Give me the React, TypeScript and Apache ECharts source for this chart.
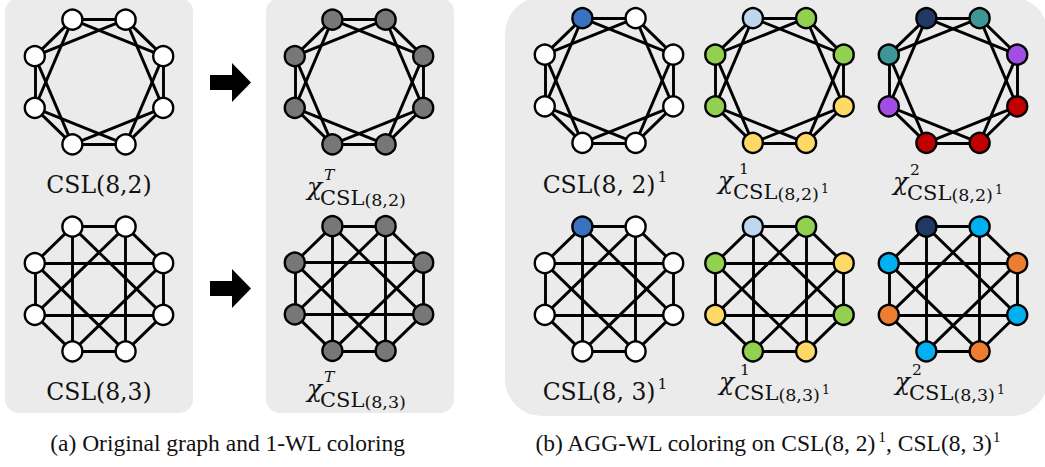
import React, { useEffect, useRef } from "react";
import * as echarts from "echarts";

// Node positions of the regular octagon (unit coordinates), clockwise from the top-left node
const nodeX = [-0.383, 0.383, 0.924, 0.924, 0.383, -0.383, -0.924, -0.924];
const nodeY = [0.924, 0.924, 0.383, -0.383, -0.924, -0.924, -0.383, 0.383];

// Edge lists
const cycleEdges = [[0, 1], [1, 2], [2, 3], [3, 4], [4, 5], [5, 6], [6, 7], [7, 0]];
const skip2Edges = [[0, 2], [1, 3], [2, 4], [3, 5], [4, 6], [5, 7], [6, 0], [7, 1]];
const skip3Edges = [[0, 3], [1, 4], [2, 5], [3, 6], [4, 7], [5, 0], [6, 1], [7, 2]];
const edgesCSL82 = cycleEdges.concat(skip2Edges);
const edgesCSL83 = cycleEdges.concat(skip3Edges);

// Colours
const WH = "#ffffff";
const GY = "#777777";
const BL = "#3a72c2";
const LB = "#bdd7ee";
const GR = "#92d050";
const YE = "#ffd966";
const NV = "#1f3864";
const TE = "#3e9696";
const PU = "#a24ee6";
const RD = "#c00000";
const CY = "#00b0f0";
const OR = "#ed7d31";

// Node colourings
const colorsPlain = [WH, WH, WH, WH, WH, WH, WH, WH];
const colors1WL = [GY, GY, GY, GY, GY, GY, GY, GY];
const colorsMarked = [BL, WH, WH, WH, WH, WH, WH, WH];
const colorsChi1CSL82 = [LB, GR, GR, YE, YE, YE, GR, GR];
const colorsChi2CSL82 = [NV, TE, PU, RD, RD, RD, PU, TE];
const colorsChi1CSL83 = [LB, GR, YE, GR, YE, GR, YE, GR];
const colorsChi2CSL83 = [NV, CY, OR, CY, OR, CY, OR, CY];

// Texts
const captionA = "(a) Original graph and 1-WL coloring";
const captionBParts = ["(b) AGG-WL coloring on CSL(8, 2)", "1", ", CSL(8, 3)", "1"];

const SERIF = "DejaVu Serif";
const TIMES = "Liberation Serif";
const RX = 69.5;
const RY = 67.5;

const graphs = [
  { edges: edgesCSL82, colors: colorsPlain, cx: 99, cy: 82 },
  { edges: edgesCSL83, colors: colorsPlain, cx: 99, cy: 289 },
  { edges: edgesCSL82, colors: colors1WL, cx: 359, cy: 82 },
  { edges: edgesCSL83, colors: colors1WL, cx: 359, cy: 288.5 },
  { edges: edgesCSL82, colors: colorsMarked, cx: 609, cy: 80.5 },
  { edges: edgesCSL82, colors: colorsChi1CSL82, cx: 779.5, cy: 80.5 },
  { edges: edgesCSL82, colors: colorsChi2CSL82, cx: 953, cy: 80.5 },
  { edges: edgesCSL83, colors: colorsMarked, cx: 609, cy: 289 },
  { edges: edgesCSL83, colors: colorsChi1CSL83, cx: 779.5, cy: 289 },
  { edges: edgesCSL83, colors: colorsChi2CSL83, cx: 953, cy: 289 },
];

type Seg = { t: string; f: number; it?: boolean; dy?: number; gap?: number };

let ctx: CanvasRenderingContext2D | null = null;
function measure(t: string, f: number, it: boolean, family: string) {
  if (!ctx) ctx = document.createElement("canvas").getContext("2d");
  if (!ctx) return t.length * f * 0.6;
  ctx.font = `${it ? "italic " : ""}${f}px "${family}", serif`;
  return ctx.measureText(t).width;
}

function textEl(x: number, baseline: number, s: Seg, family: string) {
  const k = family === TIMES ? 0.3375 : 0.346;
  return {
    type: "text",
    x,
    y: baseline + (s.dy || 0) - k * s.f,
    z: 5,
    style: {
      text: s.t,
      fontFamily: `"${family}", serif`,
      fontSize: s.f,
      fontStyle: s.it ? "italic" : "normal",
      fill: "#111",
      align: "left",
      verticalAlign: "middle",
    },
  };
}

function seq(x: number, baseline: number, segs: Seg[], family: string, center: boolean) {
  const widths = segs.map((s) => measure(s.t, s.f, !!s.it, family));
  const total = widths.reduce((a, w, i) => a + w + (segs[i].gap || 0), 0);
  let cur = center ? x - total / 2 : x;
  const out: any[] = [];
  segs.forEach((s, i) => {
    cur += s.gap || 0;
    out.push(textEl(cur, baseline, s, family));
    cur += widths[i];
  });
  return out;
}

function chiLabel(x0: number, b: number, sup: string, supItalic: boolean, supDx: number, subDx: number, inner: string, trailing: boolean) {
  const els: any[] = [];
  els.push(textEl(x0, b - 9.5, { t: "χ", f: 25, it: true }, SERIF));
  els.push(textEl(x0 + supDx, b - 25, { t: sup, f: 15.5, it: supItalic }, SERIF));
  const segs: Seg[] = [
    { t: "CSL", f: 21 },
    { t: inner, f: 17.5, dy: 1.5 },
  ];
  if (trailing) segs.push({ t: "1", f: 12.5, dy: -6, gap: 2 });
  return els.concat(seq(x0 + subDx, b, segs, SERIF, false));
}

function arrow(cy: number) {
  return {
    type: "polygon",
    z: 1,
    shape: {
      points: [
        [210, cy - 7.5],
        [232, cy - 7.5],
        [232, cy - 19.5],
        [251, cy],
        [232, cy + 19.5],
        [232, cy + 7.5],
        [210, cy + 7.5],
      ],
    },
    style: { fill: "#000" },
  };
}

export default function App() {
  const ref = useRef<HTMLDivElement>(null);
  useEffect(() => {
    if (!ref.current) return;
    const chart = echarts.init(ref.current, undefined, { renderer: "svg" });

    const grid = graphs.map((g) => ({
      left: g.cx - RX,
      top: g.cy - RY,
      width: 2 * RX,
      height: 2 * RY,
      containLabel: false,
    }));
    const xAxis = graphs.map((_, i) => ({ type: "value", gridIndex: i, min: -1, max: 1, show: false }));
    const yAxis = graphs.map((_, i) => ({ type: "value", gridIndex: i, min: -1, max: 1, show: false }));
    const series = graphs.map((g, i) => ({
      type: "graph",
      layout: "none",
      coordinateSystem: "cartesian2d",
      xAxisIndex: i,
      yAxisIndex: i,
      silent: true,
      symbol: "circle",
      symbolSize: 20,
      data: nodeX.map((x, k) => ({
        name: "n" + k,
        value: [x, nodeY[k]],
        itemStyle: { color: g.colors[k] },
      })),
      links: g.edges.map(([s, t]) => ({ source: "n" + s, target: "n" + t })),
      itemStyle: { borderColor: "#000", borderWidth: 2.4, opacity: 1 },
      lineStyle: { color: "#000", width: 2.9, opacity: 1, curveness: 0 },
      label: { show: false },
      emphasis: { disabled: true },
    }));

    const elements: any[] = [
      { type: "rect", z: 0, shape: { x: 5, y: -2, width: 188, height: 415, r: 14 }, style: { fill: "#ebebeb" } },
      { type: "rect", z: 0, shape: { x: 266, y: -2, width: 188, height: 415, r: 14 }, style: { fill: "#ebebeb" } },
      { type: "rect", z: 0, shape: { x: 505, y: -3, width: 543, height: 419, r: 37 }, style: { fill: "#ebebeb" } },
      arrow(82.5),
      arrow(288.5),
    ];

    // Panel (a) labels
    elements.push(...seq(99, 193, [{ t: "CSL(8,2)", f: 23.5 }], SERIF, true));
    elements.push(...seq(99, 400, [{ t: "CSL(8,3)", f: 23.5 }], SERIF, true));
    elements.push(...chiLabel(307, 205, "T", true, 17, 13, "(8,2)", false));
    elements.push(...chiLabel(307, 407, "T", true, 17, 13, "(8,3)", false));

    // Panel (b) labels
    elements.push(...seq(605, 193, [{ t: "CSL(8, 2)", f: 23.5 }, { t: "1", f: 15.5, dy: -11, gap: 2 }], SERIF, true));
    elements.push(...seq(605, 400, [{ t: "CSL(8, 3)", f: 23.5 }, { t: "1", f: 15.5, dy: -11, gap: 2 }], SERIF, true));
    elements.push(...chiLabel(718, 199, "1", false, 21, 15, "(8,2)", true));
    elements.push(...chiLabel(893, 200, "2", false, 17, 14, "(8,2)", true));
    elements.push(...chiLabel(719, 400, "1", false, 21, 15, "(8,3)", true));
    elements.push(...chiLabel(895, 400, "2", false, 17, 14, "(8,3)", true));

    // Captions
    elements.push(...seq(228, 451, [{ t: captionA, f: 23.5 }], TIMES, true));
    elements.push(
      ...seq(
        768,
        451,
        [
          { t: captionBParts[0], f: 23.5 },
          { t: captionBParts[1], f: 15.5, dy: -9, gap: 1 },
          { t: captionBParts[2], f: 23.5 },
          { t: captionBParts[3], f: 15.5, dy: -9, gap: 1 },
        ],
        TIMES,
        true
      )
    );

    chart.setOption({
      animation: false,
      backgroundColor: "#ffffff",
      grid,
      xAxis,
      yAxis,
      series,
      graphic: { elements },
    });
    return () => chart.dispose();
  }, []);

  return (
    <div
      ref={ref}
      style={{ position: "fixed", left: 0, top: 0, width: 1045, height: 467, background: "#fff" }}
    />
  );
}
